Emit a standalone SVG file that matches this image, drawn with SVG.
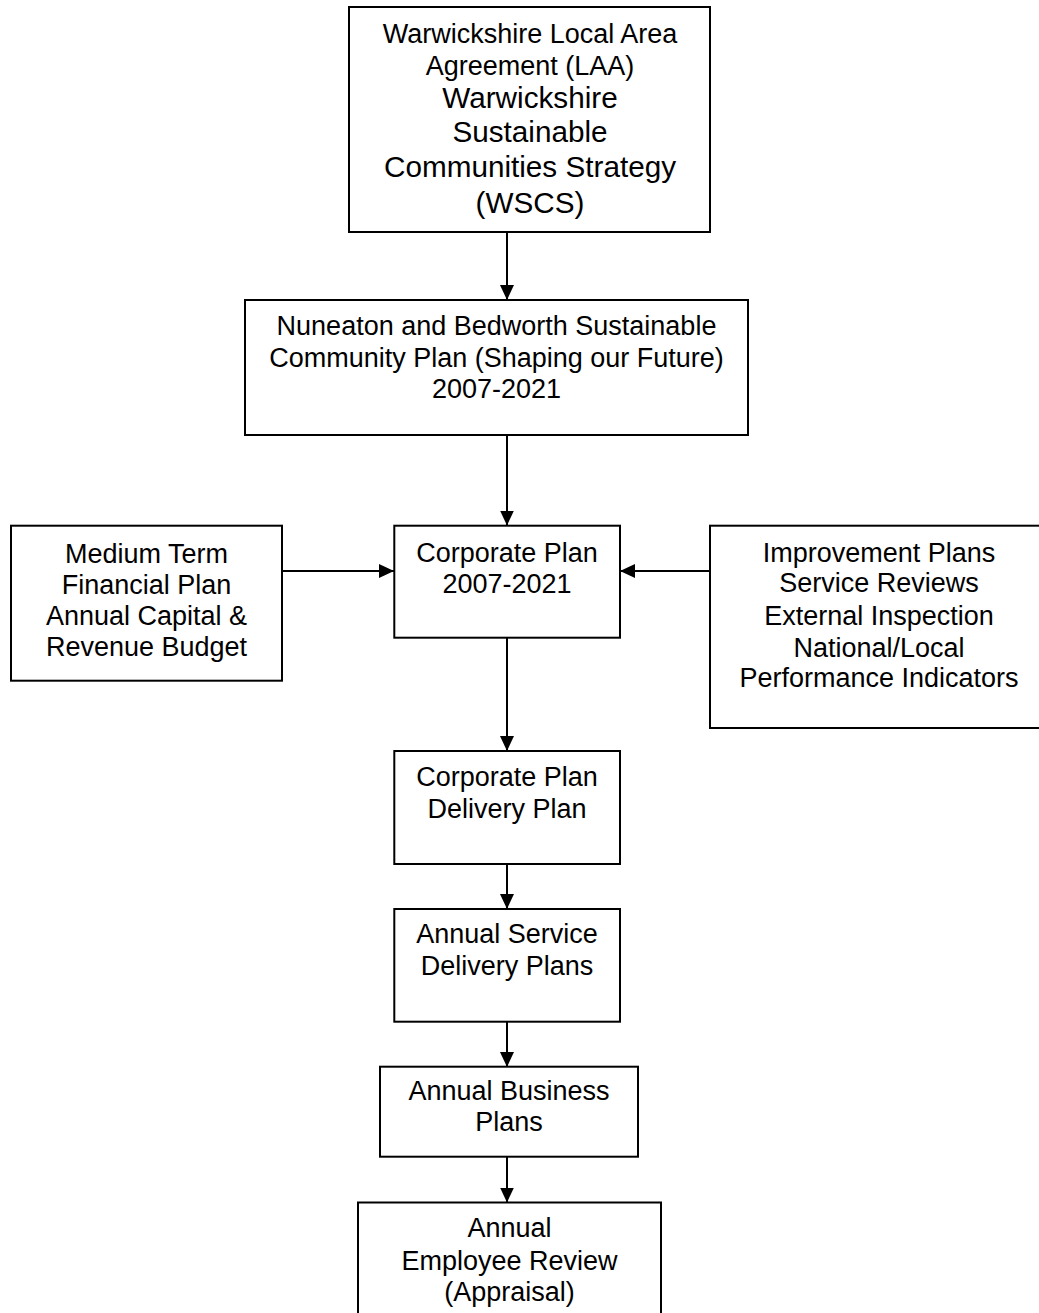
<svg xmlns="http://www.w3.org/2000/svg" width="1039" height="1313" viewBox="0 0 1039 1313">
<defs>
<style>
.box{fill:#fff;stroke:#000;stroke-width:2}
.t{font-family:"Liberation Sans",Arial,sans-serif;font-size:27px;fill:#000;text-anchor:middle}
.tb{font-size:29.7px}
.c{stroke:#000;stroke-width:2;fill:none}
</style>
<marker id="ah" markerUnits="userSpaceOnUse" markerWidth="16" markerHeight="14" refX="15" refY="7" orient="auto">
<path d="M0,0 L15,7 L0,14 z" fill="#000"/>
</marker>
</defs>
<rect width="1039" height="1313" fill="#fff"/>
<g id="connectors">
<line class="c" x1="507" y1="232" x2="507" y2="300" marker-end="url(#ah)"/>
<line class="c" x1="507" y1="435" x2="507" y2="525.5" marker-end="url(#ah)"/>
<line class="c" x1="282" y1="571" x2="394" y2="571" marker-end="url(#ah)"/>
<line class="c" x1="710" y1="571" x2="620" y2="571" marker-end="url(#ah)"/>
<line class="c" x1="507" y1="638" x2="507" y2="751" marker-end="url(#ah)"/>
<line class="c" x1="507" y1="864" x2="507" y2="909" marker-end="url(#ah)"/>
<line class="c" x1="507" y1="1022" x2="507" y2="1067" marker-end="url(#ah)"/>
<line class="c" x1="507" y1="1157" x2="507" y2="1202.5" marker-end="url(#ah)"/>
</g>
<g id="n-laa">
<rect class="box" x="349" y="7" width="361" height="225"/>
<text class="t" x="530" y="43">Warwickshire Local Area</text>
<text class="t" x="530" y="75">Agreement (LAA)</text>
<text class="t tb" x="530" y="108">Warwickshire</text>
<text class="t tb" x="530" y="142">Sustainable</text>
<text class="t tb" x="530" y="177">Communities Strategy</text>
<text class="t tb" x="530" y="213">(WSCS)</text>
</g>
<g id="n-community">
<rect class="box" x="245" y="300" width="503" height="135"/>
<text class="t" x="496.5" y="335">Nuneaton and Bedworth Sustainable</text>
<text class="t" x="496.5" y="366.5">Community Plan (Shaping our Future)</text>
<text class="t" x="496.5" y="398">2007-2021</text>
</g>
<g id="n-financial">
<rect class="box" x="11" y="525.7" width="271" height="155"/>
<text class="t" x="146.5" y="562.5">Medium Term</text>
<text class="t" x="146.5" y="593.5">Financial Plan</text>
<text class="t" x="146.5" y="625">Annual Capital &amp;</text>
<text class="t" x="146.5" y="656">Revenue Budget</text>
</g>
<g id="n-corporate">
<rect class="box" x="394.3" y="525.7" width="225.7" height="112"/>
<text class="t" x="507" y="561.7">Corporate Plan</text>
<text class="t" x="507" y="592.7">2007-2021</text>
</g>
<g id="n-improvement">
<rect class="box" x="710" y="525.7" width="338" height="202.3"/>
<text class="t" x="879" y="561.7">Improvement Plans</text>
<text class="t" x="879" y="592">Service Reviews</text>
<text class="t" x="879" y="625">External Inspection</text>
<text class="t" x="879" y="656.5">National/Local</text>
<text class="t" x="879" y="687">Performance Indicators</text>
</g>
<g id="n-delivery">
<rect class="box" x="394.3" y="751" width="225.7" height="113"/>
<text class="t" x="507" y="786">Corporate Plan</text>
<text class="t" x="507" y="818">Delivery Plan</text>
</g>
<g id="n-service">
<rect class="box" x="394.3" y="909" width="225.7" height="112.7"/>
<text class="t" x="507" y="943">Annual Service</text>
<text class="t" x="507" y="975">Delivery Plans</text>
</g>
<g id="n-business">
<rect class="box" x="380" y="1066.7" width="258" height="90"/>
<text class="t" x="509" y="1100">Annual Business</text>
<text class="t" x="509" y="1131">Plans</text>
</g>
<g id="n-employee">
<rect class="box" x="358" y="1202.5" width="303" height="130"/>
<text class="t" x="509.5" y="1237">Annual</text>
<text class="t" x="509.5" y="1269.5">Employee Review</text>
<text class="t" x="509.5" y="1301">(Appraisal)</text>
</g>
</svg>
